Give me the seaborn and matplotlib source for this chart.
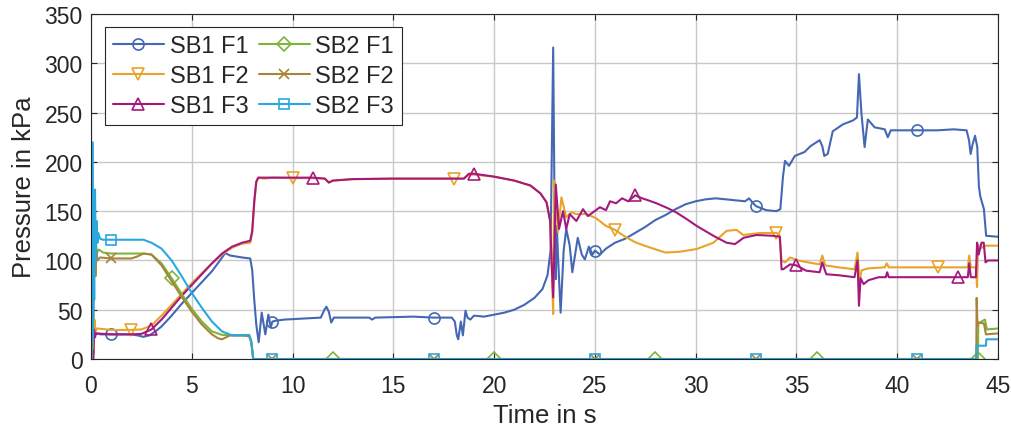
import numpy as np
import matplotlib
matplotlib.use("Agg")
import matplotlib.pyplot as plt
import seaborn as sns
from matplotlib.lines import Line2D

# ---- measured pressure traces (time in s, pressure in kPa) ----
sb1_f1_t = [0, 0.03, 0.05, 0.08, 0.11, 0.14, 0.2, 0.5, 1, 2, 2.3, 2.6, 2.9, 3.2, 3.5, 4, 4.5, 5, 5.5, 6,
            6.4, 6.66, 6.9, 7.5, 7.9, 8.0, 8.1, 8.2, 8.32, 8.47, 8.65, 8.8, 8.92, 9.0, 9.2, 9.6, 10.5,
            11.4, 11.58, 11.68, 11.8, 11.92, 12.05, 13, 13.8, 13.95, 14.1, 15, 16, 17, 17.9, 18.05,
            18.15, 18.22, 18.35, 18.45, 18.58, 18.68, 18.82, 19, 19.5, 20, 20.5, 21, 21.5, 22, 22.4,
            22.65, 22.8, 22.93, 23.0, 23.06, 23.11, 23.18, 23.3, 23.45, 23.58, 23.75, 23.88, 24.15,
            24.35, 24.5, 24.7, 24.88, 25.0, 25.25, 25.55, 26, 26.5, 27, 27.5, 28, 28.5, 29, 29.5, 30,
            30.5, 31, 31.5, 32, 32.45, 32.65, 32.85, 33, 33.5, 34, 34.2, 34.33, 34.43, 34.63, 34.92,
            35.4, 35.7, 36.15, 36.28, 36.38, 36.55, 36.8, 37.3, 37.8, 38.0, 38.1, 38.22, 38.38, 38.54,
            38.88, 39.38, 39.53, 39.68, 40, 41, 42, 42.8, 43.44, 43.56, 43.64, 43.74, 43.86, 43.97,
            44.05, 44.12, 44.3, 44.41, 45]
sb1_f1_p = [0, 0, 115, 8, 60, 20, 26, 25, 25, 25, 24, 22.5, 24, 28, 33, 44, 56, 67, 78, 89,
            100, 107.5, 105, 103, 102, 90, 60, 35, 17, 47, 25, 45, 32, 38, 39, 40, 41,
            42, 50, 53, 48, 37, 42, 42, 42, 40, 42, 42.5, 43, 42, 42, 38,
            24, 20, 38, 24, 49, 42, 40, 44, 43, 45, 47, 50, 55, 62, 71,
            85, 110, 316, 150, 81, 135, 100, 47, 110, 132, 115, 88, 123,
            106, 101, 114, 106, 110, 106, 112, 118, 122, 128, 134, 141, 146, 152, 157, 160,
            162, 163, 162, 161, 160, 163, 158, 155, 151, 150, 152, 185, 201, 196, 206,
            210, 216, 222, 216, 206, 208, 231, 238, 242, 245, 289, 250, 215, 243,
            235, 233, 225, 232, 232, 232, 232, 233, 232, 222, 208, 218, 226.5, 215,
            175, 165, 152, 125, 124]

sb1_f2_t = [0, 0.07, 0.1, 0.13, 0.17, 0.22, 0.3, 1, 2, 2.5, 3, 3.5, 4, 4.5, 5, 5.5, 6, 6.5, 7, 7.5,
            7.9, 8.0, 8.1, 8.2, 8.3, 8.6, 9, 10, 11, 11.6, 11.8, 12, 13, 15, 17, 18, 18.5, 18.75, 19,
            20, 21, 21.8, 22.3, 22.6, 22.78, 22.86, 22.93, 22.98, 23.06, 23.17, 23.34, 23.58, 23.83,
            24.08, 24.57, 25.05, 25.55, 26, 26.55, 27.05, 27.7, 28.5, 29.2, 30.05, 30.88, 31.53,
            32.03, 32.36, 33.18, 34, 34.15, 34.26, 34.43, 34.68, 35.08, 35.58, 36.15, 36.28, 36.43,
            37.08, 37.88, 38.03, 38.13, 38.23, 38.58, 39.38, 39.48, 39.58, 42, 43.5, 43.57, 43.65,
            43.9, 43.96, 44.01, 44.1, 44.4, 45]
sb1_f2_p = [0, 0, 55, 5, 40, 28, 31, 29.5, 29.5, 30, 34, 44, 55, 66, 77, 87, 97, 106, 113, 117,
            118, 128, 158, 179, 184, 183, 184, 183.5, 183.5, 183, 179, 181, 182.5, 183, 183, 183, 183, 187, 187,
            185, 181, 176, 168, 159, 140, 90, 45.6, 181, 160, 128.5, 164, 143.7, 148.8,
            147, 147, 143, 135, 131, 123.4, 118, 113.3, 108, 108.8, 111.6, 118, 130,
            131, 125.8, 127.8, 128, 126, 100, 98, 103, 100, 98, 96, 105, 95,
            93, 91, 108, 79, 90, 92, 93, 97, 93, 93, 93, 105, 93,
            93, 73, 116, 112, 115, 115]

sb1_f3_t = [0, 0.12, 0.15, 0.2, 0.25, 1, 2, 2.5, 3, 3.5, 4, 4.5, 5, 5.5, 6, 6.5, 7, 7.5, 7.9, 8.0,
            8.1, 8.2, 8.3, 9, 10, 11, 11.6, 11.8, 12, 13, 15, 17, 18.5, 18.75, 19, 20, 21, 21.8, 22.3,
            22.6, 22.78, 22.86, 22.93, 23.0, 23.06, 23.22, 23.42, 23.58, 23.75, 24.08, 24.41, 24.65,
            25.25, 25.55, 25.75, 26.05, 26.35, 26.65, 27, 27.35, 27.7, 28.05, 28.53, 29.03, 29.55,
            30.05, 30.88, 31.53, 31.95, 32.38, 33.02, 33.84, 34.18, 34.26, 34.34, 34.68, 35, 35.48,
            36.15, 36.28, 36.48, 37.08, 37.88, 38.03, 38.1, 38.18, 38.33, 38.58, 39.08, 39.43, 39.5,
            39.58, 43, 43.5, 43.57, 43.65, 43.9, 43.96, 44.04, 44.18, 44.29, 44.38, 44.5, 45]
sb1_f3_p = [0, 0, 30, 22, 26, 25, 25, 25.5, 30, 40, 52, 64, 75, 86, 97, 107, 114, 118, 120, 130,
            160, 180, 184, 184, 184, 184, 183, 179, 181, 182.5, 183, 183, 183, 188, 188, 185, 181, 176, 168,
            159, 140, 95, 62.5, 120, 177, 132, 150, 132, 147, 140, 152, 145,
            154, 151, 160, 158, 163, 160, 166, 163, 160.6, 158, 153.8, 148.8, 142,
            135, 125, 118, 116.6, 123, 125.8, 125, 124, 91, 91, 96, 95, 89.6,
            88, 98, 86, 85, 83, 100, 54, 82, 76, 80, 83, 83, 88,
            83, 83, 83, 97, 83, 83, 118, 106, 118, 118, 98, 100, 100]

sb2_f1_t = [0, 0.02, 0.04, 0.08, 0.12, 0.18, 0.25, 0.3, 0.4, 0.6, 1, 2, 2.6, 3, 3.5, 4, 4.5, 5, 5.5,
            6, 6.5, 7, 7.5, 7.85, 7.95, 8.05, 12, 20, 28, 36, 44, 44.02, 44.35, 44.45, 45]
sb2_f1_p = [0, 115, 0, 60, 105, 95, 115, 108, 111, 108, 107, 107, 107, 106, 97, 82, 66, 51, 38,
            28, 24.5, 24, 24, 24.5, 18, 0, 0, 0, 0, 0, 0, 36, 40, 30, 31]

sb2_f2_t = [0, 0.03, 0.05, 0.08, 0.12, 0.18, 0.22, 0.27, 0.32, 0.45, 1, 2, 2.3, 2.6, 3, 3.5, 4, 4.5,
            5, 5.5, 6, 6.3, 6.5, 6.7, 6.9, 7.5, 7.85, 7.95, 8.05, 9, 17, 25, 33, 41, 43.92, 43.94,
            43.98, 44.04, 44.3, 44.4, 45]
sb2_f2_p = [0, 0, 55, 10, 100, 110, 84, 110, 100, 103, 102, 102, 104, 107, 106, 95, 79, 63,
            48, 35, 25, 21, 20, 22, 24, 24, 23, 17, 0, 0, 0, 0, 0, 0, 0, 62,
            34, 37, 36, 25, 26]

sb2_f3_t = [0, 0.04, 0.07, 0.1, 0.13, 0.16, 0.2, 0.24, 0.28, 0.32, 0.36, 0.45, 0.6, 1, 2, 2.6, 3,
            3.5, 4, 4.5, 5, 5.5, 6, 6.5, 7, 7.5, 7.85, 7.95, 8.05, 9, 17, 25, 33, 41, 43.92, 43.93,
            44.4, 44.42, 45]
sb2_f3_p = [0, 0, 220, 20, 120, 60, 172, 100, 140, 118, 128, 122, 121, 121, 121, 121, 118,
            112, 100, 84, 67, 52, 38, 28, 24, 24, 24, 18, 0, 0, 0, 0, 0, 0, 0, 13.5,
            13.5, 20, 20]

# marker positions along each trace
sb1_f1_marks = [1, 9, 17, 25, 33, 41]
sb1_f2_marks = [2, 10, 18, 26, 34, 42]
sb1_f3_marks = [3, 11, 19, 27, 35, 43]
sb2_f1_marks = [4, 12, 20, 28, 36, 44]
sb2_f2_marks = [1, 9, 17, 25, 33, 41]
sb2_f3_marks = [1, 9, 17, 25, 33, 41]

series_names = ["SB1 F1", "SB1 F2", "SB1 F3", "SB2 F1", "SB2 F2", "SB2 F3"]
x_ticks = [0, 5, 10, 15, 20, 25, 30, 35, 40, 45]
y_ticks = [0, 50, 100, 150, 200, 250, 300, 350]

colors = ["#4468B4", "#E8A32A", "#A5197E", "#7FB43A", "#A8843A", "#29A8E0"]
markers = ["o", "v", "^", "D", "x", "s"]
msizes = [8, 8.5, 8.5, 7, 6.5, 7]

sns.set_style("white")
plt.rcParams["font.family"] = ["Liberation Sans", "DejaVu Sans"]
ink = "#262626"

fig = plt.figure(figsize=(10.12, 4.31), dpi=100)
ax = fig.add_axes([0.0899, 0.1647, 0.8963, 0.8005])

traces = [
    (sb1_f1_t, sb1_f1_p, sb1_f1_marks),
    (sb1_f2_t, sb1_f2_p, sb1_f2_marks),
    (sb1_f3_t, sb1_f3_p, sb1_f3_marks),
    (sb2_f1_t, sb2_f1_p, sb2_f1_marks),
    (sb2_f2_t, sb2_f2_p, sb2_f2_marks),
    (sb2_f3_t, sb2_f3_p, sb2_f3_marks),
]

handles = []
for (t, p, marks), name, c, m, ms in zip(traces, series_names, colors, markers, msizes):
    t = np.asarray(t, dtype=float)
    p = np.asarray(p, dtype=float)
    idx = [int(np.argmin(np.abs(t - mt))) for mt in marks]
    sns.lineplot(x=t, y=p, estimator=None, sort=False, color=c, linewidth=1.5,
                 marker=m, markevery=idx, markersize=ms, markerfacecolor="none",
                 markeredgecolor=c, markeredgewidth=1.2, legend=False, ax=ax)
    handles.append(Line2D([0], [0], color=c, linewidth=1.5, marker=m, markersize=ms,
                          markerfacecolor="none", markeredgecolor=c, markeredgewidth=1.2,
                          label=name))

ax.set_xlim(0, 45)
ax.set_ylim(0, 350)
ax.set_xticks(x_ticks)
ax.set_yticks(y_ticks)
ax.set_axisbelow(True)
ax.grid(True, color="#c8c8c8", linewidth=1.0)
ax.tick_params(direction="in", length=4, width=0.8, top=True, right=True,
               bottom=True, left=True, labelsize=16.5, colors=ink)
ax.tick_params(axis="x", pad=11)
ax.tick_params(axis="y", pad=6)
for s in ax.spines.values():
    s.set_color(ink)
    s.set_linewidth(0.8)

ax.set_xlabel("Time in s", fontsize=18.5, color=ink, labelpad=4)
ax.set_ylabel("Pressure in kPa", fontsize=18.5, color=ink, labelpad=6)

leg = ax.legend(handles=handles, loc="upper left", bbox_to_anchor=(0.015, 0.962), ncol=2,
                fontsize=17, handlelength=2.15, handletextpad=0.25, columnspacing=0.45,
                labelspacing=0.33, borderpad=0.35, borderaxespad=0, fancybox=False,
                framealpha=1, edgecolor=ink)
leg.get_frame().set_linewidth(0.8)

fig.savefig("out.png", dpi=100)
